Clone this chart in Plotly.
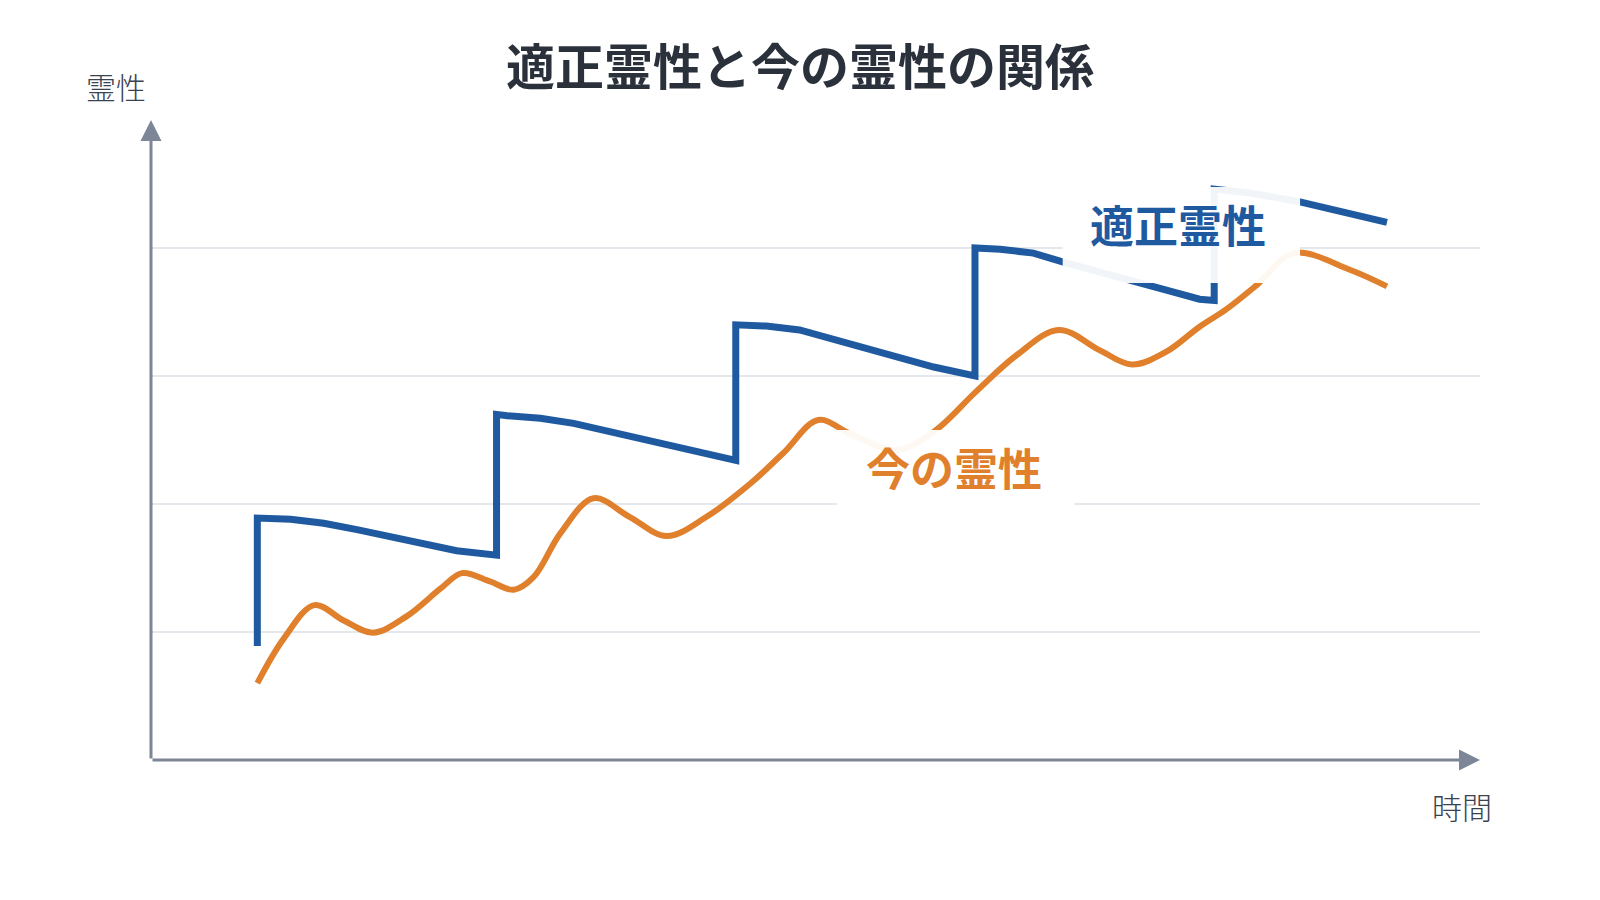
import plotly.graph_objects as go

# --- data ---
blue_x = [8, 8, 10.5, 13, 15.5, 18, 20.5, 23, 26,
          26, 26.8, 29.3, 31.8, 34.3, 36.8, 39.3, 41.8, 44,
          44, 46.3, 48.8, 51.3, 53.85, 56.4, 58.9, 62,
          62, 63.9, 66.4, 68.65, 71.4, 73.9, 76.4, 78.9, 80,
          80, 82.7, 86.45, 89, 91.5, 93]
blue_y = [0.89, 1.89, 1.88, 1.85, 1.80, 1.745, 1.69, 1.635, 1.60,
          2.70, 2.69, 2.67, 2.63, 2.57, 2.505, 2.44, 2.38, 2.34,
          3.40, 3.39, 3.36, 3.29, 3.215, 3.14, 3.07, 3.00,
          4.00, 3.99, 3.96, 3.89, 3.81, 3.73, 3.67, 3.60, 3.59,
          4.46, 4.43, 4.36, 4.30, 4.23, 4.20]

orange_x = [8, 10, 12.3, 14.5, 16.7, 19.2, 21.8, 23.4, 25.5, 27.3, 28.8, 30.8,
            33.3, 36.0, 38.8, 41.8, 45.1, 47.6, 50.2, 52.6, 56.1, 58.9, 62.1,
            65.1, 68.3, 71.4, 73.8, 76.4, 78.9, 80.9, 83.2, 86.0, 90.2, 93]
orange_y = [0.60, 0.95, 1.21, 1.09, 0.995, 1.12, 1.34, 1.46, 1.395, 1.33, 1.43, 1.77,
            2.045, 1.90, 1.75, 1.90, 2.16, 2.40, 2.656, 2.55, 2.42, 2.565, 2.88,
            3.16, 3.36, 3.20, 3.09, 3.19, 3.385, 3.52, 3.71, 3.96, 3.83, 3.70]

grid_vals = [1, 2, 3, 4]
title_text = "適正霊性と今の霊性の関係"
y_label = "霊性"
x_label = "時間"
blue_label = "適正霊性"
orange_label = "今の霊性"

BLUE = "#1f5aa0"
ORANGE = "#e0802c"
AXIS = "#7d8696"
CJK = "Noto Sans CJK JP"
BOX = "rgba(255,255,255,0.94)"

fig = go.Figure()
fig.add_trace(go.Scatter(x=orange_x, y=orange_y, mode="lines",
                         line=dict(color=ORANGE, width=6, shape="spline", smoothing=1.0),
                         hoverinfo="skip", showlegend=False))
fig.add_trace(go.Scatter(x=blue_x, y=blue_y, mode="lines",
                         line=dict(color=BLUE, width=7),
                         hoverinfo="skip", showlegend=False))

# semi-transparent label backgrounds (drawn above the lines)
shapes = [
    dict(type="rect", xref="x", yref="y", x0=68.6, x1=86.46, y0=3.727, y1=4.477,
         fillcolor=BOX, line=dict(width=0), layer="above"),
    dict(type="rect", xref="x", yref="y", x0=51.6, x1=69.5, y0=1.82, y1=2.578,
         fillcolor=BOX, line=dict(width=0), layer="above"),
]

annotations = [
    # y axis with arrow
    dict(x=0, y=5, ax=0, ay=0, xref="x", yref="y", axref="x", ayref="y",
         text="", showarrow=True, arrowhead=2, arrowsize=1.4, arrowwidth=3, arrowcolor=AXIS),
    # x axis with arrow
    dict(x=100, y=0, ax=0, ay=0, xref="x", yref="y", axref="x", ayref="y",
         text="", showarrow=True, arrowhead=2, arrowsize=1.4, arrowwidth=3, arrowcolor=AXIS),
    dict(x=-0.0267, y=1.053, xref="paper", yref="paper", text=y_label, showarrow=False,
         xanchor="center", yanchor="middle",
         font=dict(family=CJK, size=30, color="#3b4250", weight=300)),
    dict(x=0.9865, y=-0.0712, xref="paper", yref="paper", text=x_label, showarrow=False,
         xanchor="center", yanchor="middle",
         font=dict(family=CJK, size=30, color="#3b4250", weight=300)),
    dict(x=77.31, y=4.19, xref="x", yref="y", text=blue_label, showarrow=False,
         xanchor="center", yanchor="middle",
         font=dict(family=CJK, size=44, color=BLUE, weight="bold")),
    dict(x=60.42, y=2.29, xref="x", yref="y", text=orange_label, showarrow=False,
         xanchor="center", yanchor="middle",
         font=dict(family=CJK, size=44, color=ORANGE, weight="bold")),
]

fig.update_layout(
    width=1600, height=900, autosize=False,
    margin=dict(l=151, r=120, t=120, b=140),
    paper_bgcolor="white", plot_bgcolor="white",
    title=dict(text=title_text, x=0.5, xanchor="center", y=1 - 68 / 900, yanchor="middle",
               yref="container",
               font=dict(family=CJK, size=49, color="#2b313b", weight="bold")),
    xaxis=dict(range=[0, 100], showgrid=False, zeroline=False, showline=False,
               showticklabels=False, ticks=""),
    yaxis=dict(range=[0, 5], tickvals=grid_vals, showgrid=True, gridcolor="#e4e7ec",
               gridwidth=2, zeroline=False, showline=False, showticklabels=False, ticks=""),
    shapes=shapes,
    annotations=annotations,
    showlegend=False,
)

fig.write_html("out.html")
